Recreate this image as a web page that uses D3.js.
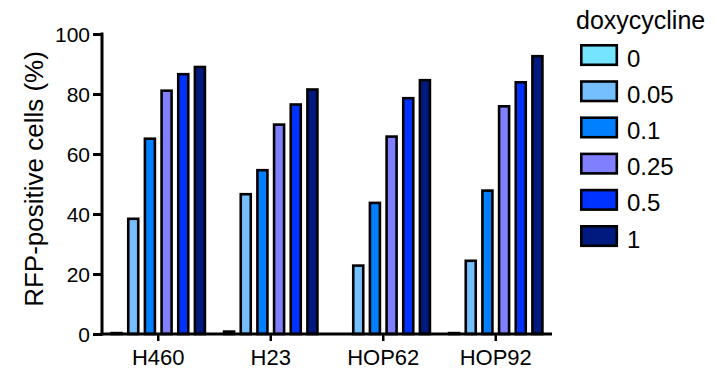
<!DOCTYPE html>
<html>
<head>
<meta charset="utf-8">
<script src="https://cdn.jsdelivr.net/npm/d3@7"></script>
<style>
  html, body { margin: 0; padding: 0; background: #fff; }
  svg { display: block; font-family: "Liberation Sans", Arial, Helvetica, sans-serif; }
</style>
</head>
<body>
<svg id="chart" width="716" height="372"></svg>
<script>
const cellLines = ["H460", "H23", "HOP62", "HOP92"];
const doses = ["0", "0.05", "0.1", "0.25", "0.5", "1"];
const doseColors = ["#75e5ff", "#75bfff", "#0080ff", "#8080ff", "#0033ff", "#001a80"];
const valuesH460  = [0.3, 38.4, 65.1, 81.1, 86.6, 89.0];
const valuesH23   = [0.8, 46.6, 54.6, 69.8, 76.5, 81.5];
const valuesHOP62 = [0.0, 22.8, 43.7, 65.8, 78.6, 84.6];
const valuesHOP92 = [0.3, 24.4, 47.8, 75.9, 83.9, 92.6];
const yTicks = [0, 20, 40, 60, 80, 100];
const legendTitle = "doxycycline";
const yTitle = "RFP-positive cells (%)";

const seriesByLine = [valuesH460, valuesH23, valuesHOP62, valuesHOP92];

const svg = d3.select("#chart");

const y = d3.scaleLinear().domain([0, 100]).range([334, 34]);
const x0 = d3.scaleBand().domain(cellLines).range([102, 552]).padding(0);
const x1 = d3.scaleBand().domain(doses).range([0, x0.bandwidth()])
  .paddingInner(0.4).paddingOuter(0.575);
const color = d3.scaleOrdinal().domain(doses).range(doseColors);

// bars
const groups = svg.append("g").selectAll("g")
  .data(cellLines.map((c, i) => ({ line: c, vals: seriesByLine[i] })))
  .join("g")
  .attr("transform", d => `translate(${x0(d.line)},0)`);

groups.selectAll("rect")
  .data(d => d.vals.map((v, j) => ({ dose: doses[j], v })))
  .join("rect")
  .attr("x", d => x1(d.dose))
  .attr("width", x1.bandwidth())
  .attr("y", d => y(d.v))
  .attr("height", d => y(0) - y(d.v))
  .attr("fill", d => color(d.dose))
  .attr("stroke", "#000")
  .attr("stroke-width", 2.6);

// y axis
const yAxis = svg.append("g")
  .attr("transform", "translate(102,0)")
  .call(d3.axisLeft(y).tickValues(yTicks).tickSize(9).tickPadding(3).tickSizeOuter(0));
yAxis.select(".domain").attr("stroke", "#000").attr("stroke-width", 3)
  .attr("d", `M0,${y(100) - 1.5}V${y(0) + 1.5}`);
yAxis.selectAll(".tick line").attr("stroke", "#000").attr("stroke-width", 3);
yAxis.selectAll(".tick text").attr("fill", "#000").attr("font-size", 21)
  .attr("font-family", "Liberation Sans, Arial, sans-serif").attr("dy", "0.36em");

// x axis
const xAxis = svg.append("g")
  .attr("transform", `translate(0,${y(0)})`)
  .call(d3.axisBottom(x0).tickSize(7).tickPadding(8).tickSizeOuter(0));
xAxis.select(".domain").attr("stroke", "#000").attr("stroke-width", 3)
  .attr("d", `M${100.5},0H552`);
xAxis.selectAll(".tick line").attr("stroke", "#000").attr("stroke-width", 2.5);
xAxis.selectAll(".tick text").attr("fill", "#000").attr("font-size", 22)
  .attr("font-family", "Liberation Sans, Arial, sans-serif");

// y title
svg.append("text")
  .attr("transform", "translate(43,179) rotate(-90)")
  .attr("text-anchor", "middle")
  .attr("font-size", 26)
  .attr("fill", "#000")
  .text(yTitle);

// legend
const legend = svg.append("g");
legend.append("text")
  .attr("x", 576).attr("y", 29)
  .attr("font-size", 25).attr("fill", "#000")
  .text(legendTitle);

const legendRow = d3.scaleBand().domain(doses).range([44, 261.2]);
const rows = legend.selectAll("g.row").data(doses).join("g")
  .attr("class", "row")
  .attr("transform", d => `translate(0,${legendRow(d)})`);
rows.append("rect")
  .attr("x", 581.3).attr("y", 1.3)
  .attr("width", 35.5).attr("height", 19.5)
  .attr("fill", d => color(d))
  .attr("stroke", "#000").attr("stroke-width", 2.6);
rows.append("text")
  .attr("x", 627).attr("y", 22.5)
  .attr("font-size", 24).attr("fill", "#000")
  .text(d => d);
</script>
</body>
</html>
